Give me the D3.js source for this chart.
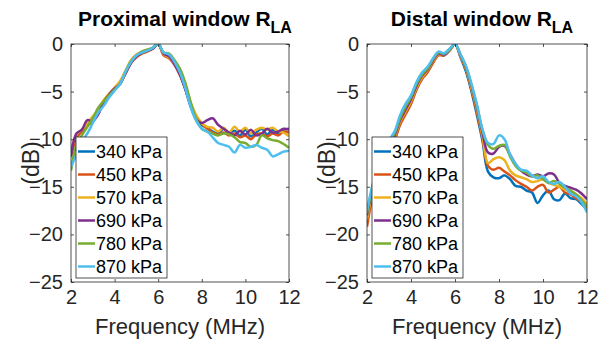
<!DOCTYPE html>
<html>
<head>
<meta charset="utf-8">
<script src="https://cdn.jsdelivr.net/npm/d3@7"></script>
<style>
body { margin: 0; background: #fff; }
text { font-family: "Liberation Sans", Arial, sans-serif; }
</style>
</head>
<body>
<svg id="svg" width="600" height="346"></svg>
<script>
// frequency axis (MHz)
var freq = [2, 2.25, 2.5, 2.75, 3, 3.25, 3.5, 3.75, 4, 4.25, 4.5, 4.75, 5, 5.25, 5.5, 5.75, 6,
    6.25, 6.5, 6.75, 7, 7.25, 7.5, 7.75, 8, 8.25, 8.5, 8.75, 9, 9.25, 9.5, 9.75, 10,
    10.25, 10.5, 10.75, 11, 11.25, 11.5, 11.75, 12];

var pressures = ["340 kPa", "450 kPa", "570 kPa", "690 kPa", "780 kPa", "870 kPa"];
var colours = ["#0072BD", "#D95319", "#EDB120", "#7E2F8E", "#77AC30", "#4DBEEE"];
var xTicks = [2, 4, 6, 8, 10, 12];
var yTicks = [0, -5, -10, -15, -20, -25];

// proximal window (dB)
var prox340 = [-11.6,-9.7,-9.1,-8.4,-8.0,-7.1,-6.2,-5.5,-4.8,-4.1,-3.0,-1.9,-1.3,-0.9,-0.7,-0.4,0,-1.0,-1.3,-2.1,-3.2,-4.8,-6.6,-7.8,-8.5,-8.8,-9.2,-9.4,-8.9,-9.4,-9.1,-9.6,-9.0,-9.7,-9.3,-8.9,-9.5,-9.0,-9.4,-9.0,-8.9];
var prox450 = [-11.9,-9.9,-9.2,-8.6,-8.1,-7.0,-6.0,-5.3,-4.6,-4.0,-3.1,-2.0,-1.4,-1.0,-0.8,-0.5,0,-1.2,-1.5,-2.2,-3.3,-4.7,-6.5,-7.7,-8.4,-8.9,-9.3,-9.5,-9.3,-9.6,-9.4,-9.8,-9.6,-10.0,-9.5,-9.4,-9.7,-9.4,-9.6,-9.2,-9.3];
var prox570 = [-11.3,-9.5,-9.0,-8.3,-7.6,-6.9,-5.9,-5.2,-4.6,-3.9,-2.8,-1.7,-1.1,-0.8,-0.6,-0.4,0,-1.1,-1.4,-2.0,-3.0,-4.4,-6.2,-7.5,-8.3,-8.7,-8.8,-9.2,-8.8,-9.3,-8.7,-9.2,-8.8,-9.4,-9.0,-8.8,-9.0,-8.8,-9.2,-9.3,-9.7];
var prox690 = [-11.8,-9.4,-9.0,-8.0,-8.1,-7.4,-6.1,-5.3,-4.7,-4.2,-3.1,-2.0,-1.3,-0.9,-0.7,-0.5,0,-1.0,-1.3,-2.1,-3.2,-4.8,-6.6,-7.9,-8.3,-8.0,-7.8,-8.5,-8.9,-9.3,-9.6,-9.1,-9.5,-9.0,-9.6,-9.4,-8.9,-9.3,-9.2,-8.9,-9.0];
var prox780 = [-13.3,-10.6,-9.6,-8.7,-7.8,-6.7,-6.0,-5.4,-4.8,-4.2,-3.0,-1.8,-1.2,-0.8,-0.6,-0.4,0,-0.9,-1.0,-1.7,-2.6,-4.1,-6.2,-7.9,-8.9,-9.2,-9.4,-9.6,-9.4,-9.5,-9.8,-10.3,-10.4,-10.8,-10.6,-9.6,-9.9,-10.1,-10.2,-10.5,-10.9];
var prox870 = [-12.9,-11.6,-10.2,-9.4,-8.3,-7.2,-6.5,-5.6,-4.9,-4.2,-2.9,-1.9,-1.2,-0.9,-0.7,-0.4,0,-0.9,-1.1,-1.9,-3.0,-4.7,-6.7,-8.1,-8.9,-9.2,-9.8,-10.4,-10.6,-10.8,-11.4,-10.6,-10.9,-10.8,-10.6,-10.9,-11.1,-11.8,-11.6,-11.3,-11.2];

// distal window (dB)
var dist340 = [-18.7,-15.8,-13.6,-12.0,-10.9,-10.0,-8.4,-7.3,-6.2,-4.7,-3.6,-2.9,-1.9,-1.1,-1.2,-0.7,0,-1.4,-2.9,-5.0,-7.5,-10.2,-13.4,-14.0,-14.1,-13.8,-14.2,-14.9,-15.0,-15.4,-15.6,-16.7,-15.9,-15.4,-16.3,-16.4,-15.7,-16.2,-16.3,-16.8,-17.4];
var dist450 = [-19.2,-16.0,-13.8,-12.1,-11.0,-10.1,-8.5,-7.4,-6.3,-4.8,-3.7,-3.0,-2.0,-1.2,-1.2,-0.7,0,-1.3,-2.7,-4.8,-7.2,-9.9,-12.8,-13.2,-13.0,-13.4,-13.8,-14.3,-14.7,-15.0,-15.4,-15.0,-14.8,-15.6,-15.3,-15.0,-15.6,-15.8,-16.2,-16.6,-17.3];
var dist570 = [-18.4,-15.5,-13.4,-11.9,-10.8,-9.8,-8.2,-7.1,-6.0,-4.6,-3.5,-2.8,-1.8,-1.1,-1.1,-0.7,0,-1.3,-2.6,-4.6,-6.9,-9.6,-12.5,-12.1,-11.9,-12.2,-13.3,-13.8,-14.0,-14.2,-14.5,-14.4,-14.2,-14.6,-14.8,-15.0,-15.3,-15.5,-15.8,-16.2,-16.8];
var dist690 = [-18.0,-15.2,-13.1,-11.6,-10.5,-9.6,-8.0,-6.9,-5.8,-4.4,-3.3,-2.7,-1.7,-1.0,-1.1,-0.6,0,-1.2,-2.5,-4.4,-6.7,-9.3,-11.4,-11.5,-10.8,-10.7,-11.6,-12.6,-13.3,-13.7,-13.9,-13.7,-13.9,-13.6,-13.7,-14.6,-14.9,-15.1,-15.3,-15.7,-16.3];
var dist780 = [-17.8,-15.0,-12.9,-11.4,-10.3,-9.4,-7.8,-6.6,-5.6,-4.2,-3.2,-2.6,-1.6,-0.9,-1.0,-0.6,0,-1.1,-2.4,-4.3,-6.5,-9.0,-10.6,-11.0,-10.7,-10.6,-11.8,-12.8,-13.3,-13.5,-13.9,-13.8,-14.2,-14.6,-14.4,-14.7,-15.1,-15.4,-15.8,-16.4,-17.1];
var dist870 = [-17.5,-14.8,-12.7,-11.2,-10.1,-9.2,-7.5,-6.3,-5.4,-4.0,-3.0,-2.4,-1.5,-0.8,-1.0,-0.5,0,-1.1,-2.3,-4.2,-6.4,-9.0,-10.4,-10.5,-9.6,-10.0,-11.6,-12.6,-13.2,-13.3,-13.8,-14.1,-13.9,-14.5,-14.7,-14.5,-15.0,-15.7,-16.0,-16.6,-17.7];

var svg = d3.select("#svg");
var axisCol = "#262626";

function drawPanel(left, right, title, series, id) {
    var top = 44, bottom = 282;
    var x = d3.scaleLinear().domain([2, 12]).range([left, right]);
    var y = d3.scaleLinear().domain([-25, 0]).range([bottom, top]);
    var g = svg.append("g");

    g.append("clipPath").attr("id", "clip" + id)
        .append("rect").attr("x", left).attr("y", top)
        .attr("width", right - left).attr("height", bottom - top);

    // lines
    var line = d3.line()
        .x(function(d, i) { return x(freq[i]); })
        .y(function(d) { return y(d); })
        .curve(d3.curveCatmullRom);
    g.append("g").attr("clip-path", "url(#clip" + id + ")")
        .selectAll("path").data(series).enter().append("path")
        .attr("d", line)
        .attr("fill", "none")
        .attr("stroke", function(d, i) { return colours[i]; })
        .attr("stroke-width", 2.5)
        .attr("stroke-linejoin", "round");

    // axes with inward ticks
    var bx = g.append("g").attr("transform", "translate(0," + bottom + ")")
        .call(d3.axisBottom(x).tickValues(xTicks).tickSizeInner(-3).tickSizeOuter(0).tickPadding(8));
    var tx = g.append("g").attr("transform", "translate(0," + top + ")")
        .call(d3.axisTop(x).tickValues(xTicks).tickSizeInner(-3).tickSizeOuter(0).tickFormat(""));
    var ly = g.append("g").attr("transform", "translate(" + left + ",0)")
        .call(d3.axisLeft(y).tickValues(yTicks).tickSizeInner(-3).tickSizeOuter(0).tickPadding(8));
    var ry = g.append("g").attr("transform", "translate(" + right + ",0)")
        .call(d3.axisRight(y).tickValues(yTicks).tickSizeInner(-3).tickSizeOuter(0).tickFormat(""));
    [bx, tx, ly, ry].forEach(function(a) {
        a.select(".domain").remove();
        a.selectAll("line").attr("stroke", axisCol).attr("stroke-width", 0.8);
        a.selectAll("text").attr("fill", axisCol).style("font-size", "20px")
            .style("font-family", '"Liberation Sans", Arial, sans-serif');
    });

    g.append("rect").attr("x", left).attr("y", top)
        .attr("width", right - left).attr("height", bottom - top)
        .attr("fill", "none").attr("stroke", axisCol).attr("stroke-width", 0.8);

    // axis labels
    var cx = (left + right) / 2;
    g.append("text").attr("x", cx).attr("y", 334)
        .attr("text-anchor", "middle").attr("fill", axisCol)
        .style("font-size", "22px").text("Frequency (MHz)");
    g.append("text")
        .attr("transform", "translate(" + (left - 32) + "," + ((top + bottom) / 2) + ") rotate(-90)")
        .attr("text-anchor", "middle").attr("fill", axisCol)
        .style("font-size", "23px").text("(dB)");

    // title with subscript
    var t = g.append("text").attr("x", cx + 5).attr("y", 26)
        .attr("text-anchor", "middle").attr("fill", "#000")
        .style("font-size", "21px").style("font-weight", "bold");
    t.append("tspan").text(title + " R");
    t.append("tspan").attr("dy", 7).style("font-size", "16px").text("LA");

    // legend
    var lx = left + 5, lyTop = 137, rowH = 23;
    var leg = g.append("g");
    leg.append("rect").attr("x", lx).attr("y", lyTop).attr("width", 91).attr("height", 141)
        .attr("fill", "#fff").attr("stroke", axisCol).attr("stroke-width", 0.8);
    var rows = leg.selectAll("g.row").data(pressures).enter().append("g").attr("class", "row")
        .attr("transform", function(d, i) { return "translate(" + lx + "," + (lyTop + 14.5 + i * rowH) + ")"; });
    rows.append("line").attr("x1", 2).attr("x2", 19).attr("y1", 0).attr("y2", 0)
        .attr("stroke", function(d, i) { return colours[i]; }).attr("stroke-width", 2.5);
    rows.append("text").attr("x", 20).attr("dy", "0.35em").attr("fill", "#000")
        .style("font-size", "18px").text(function(d) { return d; });
}

drawPanel(71, 289, "Proximal window", [prox340, prox450, prox570, prox690, prox780, prox870], "p");
drawPanel(367, 587, "Distal window", [dist340, dist450, dist570, dist690, dist780, dist870], "d");
</script>
</body>
</html>
